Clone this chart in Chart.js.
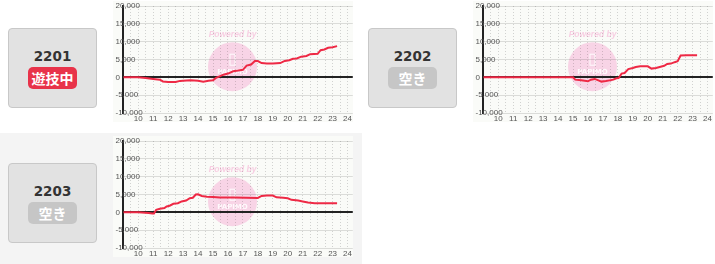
<!DOCTYPE html>
<html lang="ja">
<head>
<meta charset="utf-8">
<script src="https://cdn.jsdelivr.net/npm/chart.js@4/dist/chart.umd.min.js"></script>
<style>
  body { margin: 0; width: 715px; height: 264px; background: #fff; position: relative; overflow: hidden; }
  .row2bg { position: absolute; left: 0; top: 133px; width: 362px; height: 131px; background: #f4f4f4; }
  .panel { position: absolute; width: 360px; height: 132px; }
  .box { position: absolute; left: 8px; top: 28px; width: 87px; height: 78px; background: #e2e2e2; border: 1px solid #c8c8c8; border-radius: 4px; }
  .num { position: absolute; left: 0; right: 0; top: 19px; text-align: center; font: bold 13.5px/16px 'DejaVu Sans', sans-serif; color: #333; }
  .badge { position: absolute; left: 19px; top: 38px; width: 49px; height: 22px; border-radius: 5px; color: #fff; text-align: center; font: bold 14px/22px 'Noto Sans CJK JP', sans-serif; }
  .badge.play { background: #e8334a; }
  .badge.free { background: #c6c6c6; }
  .plot { position: absolute; left: 113px; top: 1px; width: 240px; height: 121px; background: #fafbf8; }
</style>
</head>
<body>
<div class="row2bg"></div>

<div class="panel" style="left:0;top:0">
  <div class="box"><div class="num">2201</div><div class="badge play">遊技中</div></div>
  <div class="plot"><canvas id="c2201" width="240" height="121"></canvas></div>
</div>
<div class="panel" style="left:360px;top:0">
  <div class="box"><div class="num">2202</div><div class="badge free">空き</div></div>
  <div class="plot"><canvas id="c2202" width="240" height="121"></canvas></div>
</div>
<div class="panel" style="left:0;top:135px">
  <div class="box"><div class="num">2203</div><div class="badge free">空き</div></div>
  <div class="plot"><canvas id="c2203" width="240" height="121"></canvas></div>
</div>

<script>
// --- data (hour of day, balance) ---
const hourLabels = [10, 11, 12, 13, 14, 15, 16, 17, 18, 19, 20, 21, 22, 23, 24];
const yLabelValues = [-10000, -5000, 0, 5000, 10000, 15000, 20000];

const hours2201 = [9, 10, 10.5, 11, 11.45, 11.65, 12, 12.5, 12.8, 13, 13.5, 14, 14.35, 14.7, 15, 15.2, 15.4, 15.7, 16, 16.35, 16.7, 17, 17.25, 17.55, 17.8, 18, 18.25, 18.6, 19, 19.5, 19.8, 20.1, 20.35, 20.6, 20.9, 21.25, 21.5, 22, 22.2, 22.45, 22.7, 23, 23.3];
const profit2201 = [0, 0, -200, -450, -650, -1150, -1300, -1300, -1000, -950, -850, -950, -1200, -950, -800, -150, 200, 750, 1050, 1700, 1900, 2100, 3300, 3600, 4600, 4550, 4000, 3900, 3900, 4000, 4600, 4800, 5200, 5300, 5800, 6000, 6500, 6600, 7600, 7800, 8300, 8450, 8750];

const hours2202 = [9, 15, 15.15, 15.55, 16, 16.2, 16.45, 16.7, 16.9, 17.2, 17.45, 17.7, 17.9, 18.05, 18.25, 18.45, 18.7, 19, 19.2, 19.5, 20, 20.25, 20.55, 20.8, 21.1, 21.3, 21.55, 21.8, 22, 22.2, 22.6, 23.3];
const profit2202 = [0, 0, -650, -850, -1100, -650, -450, -850, -1200, -1050, -850, -650, -250, -200, 1050, 1200, 2300, 2600, 2900, 3100, 3100, 2450, 2600, 2900, 3250, 3750, 3850, 4250, 4500, 6100, 6200, 6200];

const hours2203 = [9, 10, 10.7, 10.95, 11.05, 11.2, 11.45, 11.75, 11.9, 12.1, 12.35, 12.65, 12.9, 13.2, 13.45, 13.65, 13.85, 14, 14.25, 14.6, 15, 15.45, 16.4, 18, 18.25, 18.6, 19, 19.25, 19.7, 20, 20.25, 20.7, 21, 21.35, 21.8, 22.6, 23.3];
const profit2203 = [0, 0, -200, -350, -350, 700, 1000, 1200, 1650, 1850, 2400, 2550, 3050, 3300, 3950, 4100, 5000, 5050, 4600, 4400, 4300, 4150, 4150, 4050, 4600, 4700, 4700, 4200, 4100, 3950, 3500, 3300, 3050, 2750, 2550, 2550, 2550];

Chart.defaults.font.family = "'Liberation Sans', Arial, sans-serif";
Chart.defaults.font.size = 8;
Chart.defaults.color = '#555';

// half-hour dotted grid, from one hour before the first label
const halfHourTicks = [hourLabels[0] - 1, hourLabels[0] - 0.5];
hourLabels.forEach(h => {
  halfHourTicks.push(h);
  if (h < hourLabels[hourLabels.length - 1]) halfHourTicks.push(h + 0.5);
});

// "Powered by PAPIMO" stamp behind the grid
const papimoMark = {
  id: 'papimoMark',
  beforeDraw(chart) {
    const ctx = chart.ctx;
    const cx = 119.5, cy = 65.7;
    ctx.save();
    ctx.fillStyle = 'rgba(244,150,200,0.38)';
    ctx.beginPath();
    ctx.arc(cx, cy, 24.5, 0, Math.PI * 2);
    ctx.fill();
    ctx.textAlign = 'center';
    ctx.textBaseline = 'middle';
    ctx.fillStyle = 'rgba(244,150,200,0.45)';
    ctx.font = "italic bold 8.5px 'Liberation Sans', sans-serif";
    ctx.fillText('Powered by', cx, 34);
    ctx.strokeStyle = 'rgba(255,255,255,0.9)';
    ctx.lineWidth = 1;
    ctx.strokeRect(cx - 2.5, cy - 12.5, 5, 11);
    ctx.fillStyle = 'rgba(255,255,255,0.85)';
    ctx.font = "bold 7px 'DejaVu Sans', sans-serif";
    ctx.fillText('PAPIMO', cx, cy + 5.5);
    ctx.restore();
  }
};

function makeChart(canvasId, hours, profit) {
  return new Chart(document.getElementById(canvasId), {
    type: 'line',
    data: {
      datasets: [{
        data: hours.map((h, i) => ({ x: h, y: profit[i] })),
        borderColor: '#ee2945',
        borderWidth: 2,
        pointRadius: 0,
        tension: 0,
        fill: false
      }]
    },
    options: {
      responsive: false,
      devicePixelRatio: 1,
      animation: false,
      events: [],
      layout: { padding: { top: 5, left: 2.5, right: 0, bottom: 0 } },
      plugins: { legend: { display: false }, tooltip: { enabled: false } },
      scales: {
        x: {
          type: 'linear',
          min: 9,
          max: 24.35,
          afterBuildTicks: s => { s.ticks = halfHourTicks.map(v => ({ value: v })); },
          afterFit: s => { s.height = 9; },
          ticks: {
            autoSkip: false,
            maxRotation: 0,
            padding: 1,
            callback: v => hourLabels.includes(v) ? String(v) : ''
          },
          grid: { drawTicks: false, color: 'rgba(0,0,0,0.16)', borderDash: [1, 2] },
          border: { display: false, dash: [1, 2] }
        },
        y: {
          min: -10000,
          max: 20000,
          afterFit: s => { s.width = 7.8; },
          ticks: {
            stepSize: 2500,
            mirror: true,
            crossAlign: 'near',
            padding: -7.8,
            callback: v => yLabelValues.includes(v) ? v.toLocaleString('en-US') : ''
          },
          grid: {
            drawTicks: false,
            color: c => c.tick && c.tick.value === 0 ? '#222' : 'rgba(0,0,0,0.12)',
            lineWidth: c => c.tick && c.tick.value === 0 ? 2 : 1
          },
          border: { display: true, color: '#222', width: 2 }
        }
      }
    },
    plugins: [papimoMark]
  });
}

makeChart('c2201', hours2201, profit2201);
makeChart('c2202', hours2202, profit2202);
makeChart('c2203', hours2203, profit2203);
</script>
</body>
</html>
